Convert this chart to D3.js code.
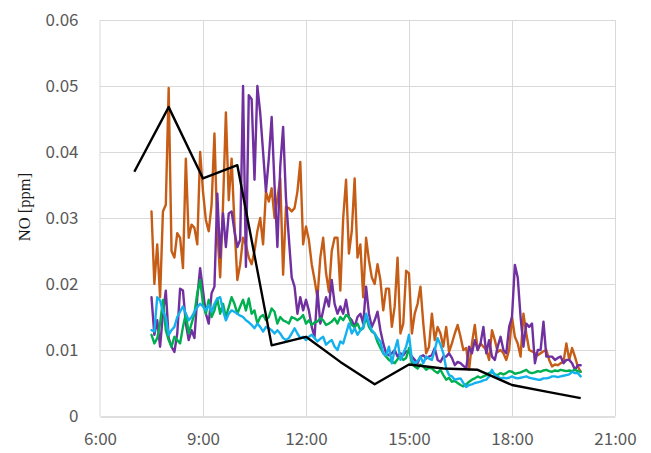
<!DOCTYPE html>
<html>
<head>
<meta charset="utf-8">
<script src="https://cdn.jsdelivr.net/npm/d3@7"></script>
<style>
  html, body { margin: 0; padding: 0; background: #ffffff; }
  svg { display: block; }
</style>
</head>
<body>
<svg id="chart" width="651" height="453"></svg>
<script>
// Hourly NO reference (black)
const hourlyTimes = ["7:00","8:00","9:00","10:00","11:00","12:00","13:00","14:00","15:00","16:00","17:00","18:00","19:00","20:00"];
const hourlyNO = [0.037,0.0468,0.036,0.038,0.0107,0.012,0.0082,0.0048,0.0078,0.0072,0.007,0.0047,0.0037,0.0027];

// 5-minute samples from 7:30 to 20:00
const sampleStart = "7:30";
const sampleStepMinutes = 5;

const orangeNO = [
  0.031,0.020,0.026,0.018,0.031,0.032,0.0497,0.025,0.024,0.0277,
  0.027,0.0224,0.039,0.027,0.029,0.0285,0.026,0.040,0.034,0.0297,
  0.028,0.032,0.0428,0.028,0.021,0.032,0.046,0.0327,0.039,0.029,
  0.0206,0.023,0.027,0.026,0.024,0.023,0.025,0.028,0.030,0.026,
  0.034,0.0325,0.0345,0.030,0.033,0.036,0.0214,0.0317,0.0315,0.031,
  0.0315,0.034,0.0385,0.026,0.0287,0.0267,0.023,0.0206,0.0179,0.024,
  0.027,0.0217,0.0188,0.025,0.027,0.027,0.019,0.030,0.0358,0.0246,
  0.028,0.036,0.024,0.026,0.018,0.027,0.0236,0.021,0.020,0.023,
  0.0206,0.016,0.0193,0.0193,0.0135,0.0166,0.024,0.0125,0.014,0.022,
  0.0216,0.0125,0.0155,0.017,0.0196,0.014,0.0095,0.0105,0.0155,0.0115,
  0.0135,0.0125,0.0105,0.0135,0.0097,0.011,0.0125,0.0138,0.012,0.010,
  0.0103,0.007,0.011,0.0138,0.010,0.011,0.0105,0.010,0.0085,0.013,
  0.0115,0.0097,0.010,0.0095,0.0085,0.010,0.015,0.012,0.011,0.009,
  0.0155,0.0125,0.010,0.0098,0.0095,0.0092,0.0095,0.0098,0.010,0.0085,
  0.0075,0.0078,0.0077,0.0080,0.0082,0.011,0.0085,0.0103,0.009,0.0075,
  0.0067
];

const purpleNO = [
  0.018,0.0123,0.0145,0.0105,0.0155,0.019,0.0118,0.0105,0.0097,0.0125,
  0.0193,0.019,0.014,0.0115,0.013,0.0118,0.018,0.0224,0.019,0.0155,
  0.014,0.0186,0.0196,0.0337,0.024,0.0307,0.0256,0.0307,0.031,0.028,
  0.0256,0.0267,0.050,0.0226,0.0486,0.048,0.0358,0.050,0.0459,0.040,
  0.034,0.039,0.0453,0.035,0.0256,0.0378,0.0438,0.033,0.027,0.021,
  0.0196,0.0155,0.018,0.016,0.0176,0.016,0.0135,0.012,0.019,0.014,
  0.016,0.018,0.0166,0.0206,0.017,0.0155,0.0166,0.0155,0.0176,0.015,
  0.0145,0.0135,0.015,0.0155,0.014,0.0196,0.0155,0.0135,0.0145,0.0158,
  0.013,0.011,0.0095,0.0092,0.0095,0.010,0.009,0.0095,0.0092,0.0098,
  0.0097,0.009,0.0085,0.008,0.009,0.0092,0.0087,0.009,0.0092,0.0103,
  0.0085,0.0082,0.009,0.009,0.0095,0.0088,0.0077,0.0082,0.008,0.0076,
  0.0072,0.0105,0.0095,0.0115,0.010,0.011,0.0135,0.0095,0.0115,0.009,
  0.0085,0.0105,0.012,0.010,0.0095,0.0135,0.015,0.0229,0.021,0.015,
  0.0105,0.014,0.0135,0.014,0.008,0.010,0.010,0.0143,0.009,0.009,
  0.009,0.0085,0.0088,0.009,0.008,0.0085,0.0085,0.008,0.007,0.0077,
  0.0077
];

const greenNO = [
  0.0123,0.011,0.0118,0.014,0.0176,0.013,0.0115,0.0105,0.012,0.0115,
  0.011,0.0135,0.0155,0.0125,0.014,0.0155,0.0186,0.0206,0.017,0.0155,
  0.0176,0.015,0.016,0.0178,0.0155,0.017,0.015,0.0165,0.018,0.017,
  0.0155,0.0166,0.0176,0.016,0.0178,0.0155,0.016,0.014,0.015,0.0153,
  0.0145,0.015,0.0163,0.0158,0.014,0.015,0.0145,0.0143,0.014,0.015,
  0.0148,0.0145,0.0148,0.0153,0.014,0.0145,0.0138,0.0142,0.0143,0.0148,
  0.0145,0.0138,0.014,0.0143,0.0148,0.014,0.015,0.0145,0.0153,0.015,
  0.0138,0.0135,0.014,0.013,0.0133,0.015,0.0135,0.0128,0.0125,0.0112,
  0.0103,0.0095,0.009,0.0085,0.0082,0.008,0.0086,0.009,0.0085,0.0088,
  0.0103,0.008,0.0075,0.0072,0.0078,0.0075,0.007,0.0073,0.0072,0.0068,
  0.0065,0.007,0.0062,0.0055,0.0058,0.0052,0.0053,0.005,0.0047,0.0045,
  0.0048,0.0052,0.0055,0.0057,0.006,0.0058,0.006,0.0062,0.0065,0.0067,
  0.0063,0.0062,0.0065,0.0063,0.0065,0.0068,0.0067,0.0064,0.0065,0.0066,
  0.0068,0.007,0.0066,0.0065,0.0066,0.0068,0.0067,0.0069,0.007,0.0068,
  0.0067,0.0069,0.0068,0.007,0.0069,0.0068,0.0069,0.0068,0.007,0.0068,
  0.0067
];

const blueNO = [
  0.013,0.0128,0.018,0.0175,0.0158,0.015,0.0123,0.013,0.0135,0.015,
  0.0158,0.0166,0.0155,0.0145,0.015,0.0158,0.0165,0.017,0.0166,0.016,
  0.0168,0.0158,0.017,0.0178,0.018,0.016,0.0145,0.0155,0.016,0.0158,
  0.0155,0.0152,0.015,0.0145,0.0142,0.0138,0.0133,0.014,0.0135,0.0128,
  0.0135,0.0133,0.013,0.0125,0.013,0.0125,0.0118,0.0115,0.0118,0.0125,
  0.0133,0.0125,0.0118,0.012,0.0115,0.012,0.0123,0.0118,0.0113,0.0117,
  0.012,0.0108,0.0112,0.0115,0.0105,0.010,0.0113,0.011,0.0125,0.014,
  0.0125,0.0133,0.0123,0.013,0.0135,0.0155,0.014,0.013,0.0125,0.0118,
  0.0113,0.0095,0.0092,0.0105,0.008,0.010,0.0115,0.0085,0.0095,0.0105,
  0.0123,0.0085,0.008,0.0083,0.009,0.008,0.009,0.0087,0.0085,0.010,
  0.0118,0.0108,0.0095,0.0072,0.0062,0.006,0.0055,0.0056,0.0057,0.005,
  0.0044,0.0047,0.0048,0.005,0.0051,0.0052,0.0054,0.0055,0.006,0.007,
  0.0062,0.006,0.0057,0.0058,0.0057,0.0058,0.006,0.0058,0.0057,0.0058,
  0.0059,0.006,0.0058,0.0057,0.0056,0.0055,0.0055,0.0057,0.0057,0.0058,
  0.006,0.006,0.0059,0.006,0.0061,0.0062,0.0063,0.0067,0.0065,0.0065,
  0.006
];

const xTickLabels = ["6:00","9:00","12:00","15:00","18:00","21:00"];
const yTickValues = [0, 0.01, 0.02, 0.03, 0.04, 0.05, 0.06];
const yTitle = "NO [ppm]";

// ---- helpers ----
const toMinutes = s => { const [h, m] = s.split(":").map(Number); return h * 60 + m; };
const fmtTime = mins => `${Math.floor(mins / 60)}:${String(mins % 60).padStart(2, "0")}`;

const sampleTimes = orangeNO.map((_, i) => toMinutes(sampleStart) + i * sampleStepMinutes);

const series = [
  { name: "orange", values: orangeNO, color: "#C65D16" },
  { name: "purple", values: purpleNO, color: "#7030A0" },
  { name: "green",  values: greenNO,  color: "#00B050" },
  { name: "blue",   values: blueNO,   color: "#14B1EE" }
];

// ---- layout ----
const svg = d3.select("#chart");
const plot = { left: 100, right: 615, top: 20, bottom: 416 };

const x = d3.scaleLinear()
  .domain([toMinutes(xTickLabels[0]), toMinutes(xTickLabels[xTickLabels.length - 1])])
  .range([plot.left, plot.right]);
const y = d3.scaleLinear()
  .domain([0, 0.06])
  .range([plot.bottom, plot.top]);

const labelFont = "'Noto Sans CJK JP', 'Noto Sans', sans-serif";

// grid
const grid = svg.append("g").attr("class", "grid");
grid.selectAll("line.h").data(yTickValues.slice(1)).join("line")
  .attr("class", "h")
  .attr("x1", plot.left).attr("x2", plot.right)
  .attr("y1", d => Math.round(y(d)) + 0.5).attr("y2", d => Math.round(y(d)) + 0.5)
  .attr("stroke", "#d9d9d9").attr("stroke-width", 1);
grid.selectAll("line.v").data(xTickLabels.slice(1).map(toMinutes)).join("line")
  .attr("class", "v")
  .attr("x1", d => Math.round(x(d)) + 0.5).attr("x2", d => Math.round(x(d)) + 0.5)
  .attr("y1", plot.top).attr("y2", plot.bottom)
  .attr("stroke", "#d9d9d9").attr("stroke-width", 1);

// axes
const xAxis = d3.axisBottom(x)
  .tickValues(xTickLabels.map(toMinutes))
  .tickFormat(fmtTime)
  .tickSize(0).tickPadding(16);
const yAxis = d3.axisLeft(y)
  .tickValues(yTickValues)
  .tickFormat(d => d === 0 ? "0" : d3.format(".2f")(d))
  .tickSize(0).tickPadding(21);

const gx = svg.append("g")
  .attr("transform", `translate(0,${Math.round(plot.bottom) + 0.5})`)
  .call(xAxis);
gx.select(".domain").attr("stroke", "#bfbfbf").attr("stroke-width", 1);
gx.selectAll("text")
  .attr("font-family", labelFont).attr("font-size", 17).attr("fill", "#595959");

const gy = svg.append("g")
  .attr("transform", `translate(${plot.left - 0.5},0)`)
  .call(yAxis);
gy.select(".domain").attr("stroke", "#d9d9d9").attr("stroke-width", 1);
gy.selectAll("text")
  .attr("font-family", labelFont).attr("font-size", 17).attr("fill", "#595959");

// y title
svg.append("text")
  .attr("transform", `translate(30,207) rotate(-90)`)
  .attr("text-anchor", "middle")
  .attr("font-family", "'Liberation Serif', 'DejaVu Serif', serif")
  .attr("font-size", 16.5)
  .attr("fill", "#1a1a1a")
  .text(yTitle);

// lines
const lineGen = d3.line()
  .x(d => x(d.t))
  .y(d => y(d.v));

const lines = svg.append("g").attr("class", "series");
series.forEach(s => {
  lines.append("path")
    .datum(s.values.map((v, i) => ({ t: sampleTimes[i], v })))
    .attr("fill", "none")
    .attr("stroke", s.color)
    .attr("stroke-width", 2.4)
    .attr("stroke-linejoin", "round")
    .attr("stroke-linecap", "round")
    .attr("d", lineGen);
});

lines.append("path")
  .datum(hourlyNO.map((v, i) => ({ t: toMinutes(hourlyTimes[i]), v })))
  .attr("fill", "none")
  .attr("stroke", "#000000")
  .attr("stroke-width", 2.4)
  .attr("stroke-linejoin", "round")
  .attr("d", lineGen);
</script>
</body>
</html>
